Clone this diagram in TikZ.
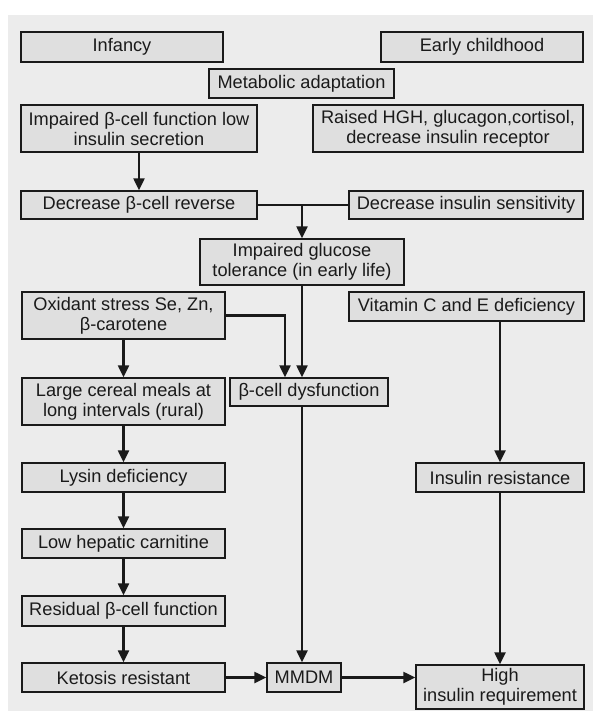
\documentclass[tikz,border=0pt]{standalone}
\usepackage{fontspec}
\setmainfont{Liberation Sans}
\usetikzlibrary{arrows.meta}
\definecolor{paper}{HTML}{ECECEC}
\definecolor{boxfill}{HTML}{DFDFDF}
\definecolor{ink}{HTML}{1A1A1A}
\begin{document}
\begin{tikzpicture}[x=1pt,y=-1pt,
  stepbox/.style={draw=ink,line width=1.4pt,fill=boxfill,rectangle,inner sep=0pt,
    align=center,text=ink,font=\fontsize{18.2}{20}\selectfont},
  flow/.style={draw=ink,line width=2.3pt,-{Triangle[length=12pt,width=11pt]}},
  joint/.style={draw=ink,line width=2.3pt}]
% page and scanned sheet
\useasboundingbox (0,0) rectangle (593,711);
\fill[white] (0,0) rectangle (593,711);
\fill[paper] (8,15) rectangle (593,711);
% boxes
\node[stepbox,minimum width=202pt,minimum height=30pt] (inf) at (122,47) {Infancy};
\node[stepbox,minimum width=202pt,minimum height=30pt] (ec) at (482,47) {Early childhood};
\node[stepbox,minimum width=185pt,minimum height=29pt] (ma) at (301.5,83.5) {Metabolic adaptation};
\node[stepbox,minimum width=236pt,minimum height=47pt] (ibf) at (139,128.5) {Impaired β-cell function low\\insulin secretion};
\node[stepbox,minimum width=270pt,minimum height=47pt] (hgh) at (448,128.5) {Raised HGH, glucagon,cortisol,\\decrease insulin receptor};
\node[stepbox,minimum width=236pt,minimum height=28pt] (dbr) at (139,205) {Decrease β-cell reverse};
\node[stepbox,minimum width=234pt,minimum height=28pt] (dis) at (466,205) {Decrease insulin sensitivity};
\node[stepbox,minimum width=204pt,minimum height=46pt] (igt) at (302,262) {Impaired glucose\\tolerance (in early life)};
\node[stepbox,minimum width=203pt,minimum height=47pt] (ox) at (123.5,315.5) {Oxidant stress Se, Zn,\\β-carotene};
\node[stepbox,minimum width=235pt,minimum height=29pt] (vit) at (466.5,306.5) {Vitamin C and E deficiency};
\node[stepbox,minimum width=203pt,minimum height=47pt] (lcm) at (123.5,401.5) {Large cereal meals at\\long intervals (rural)};
\node[stepbox,minimum width=158pt,minimum height=28pt] (bcd) at (309,392) {β-cell dysfunction};
\node[stepbox,minimum width=203pt,minimum height=29pt] (lys) at (123.5,477.5) {Lysin deficiency};
\node[stepbox,minimum width=168pt,minimum height=29pt] (ir) at (500,477.5) {Insulin resistance};
\node[stepbox,minimum width=203pt,minimum height=29pt] (lhc) at (123.5,543.5) {Low hepatic carnitine};
\node[stepbox,minimum width=203pt,minimum height=30pt] (res) at (123.5,611) {Residual β-cell function};
\node[stepbox,minimum width=203pt,minimum height=29pt] (ket) at (123.5,677.5) {Ketosis resistant};
\node[stepbox,minimum width=74pt,minimum height=29pt] (mmdm) at (304,677.5) {MMDM};
\node[stepbox,minimum width=168pt,minimum height=44pt] (hir) at (500,687) {High\\insulin requirement};
% junction points
\coordinate (j) at (igt.north |- dbr.east);
\coordinate (oxturn) at (285,0);
% connectors
\draw[flow] (ibf.south) -- (dbr.north);
\draw[joint] (dbr.east) -- (dis.west);
\draw[flow] (j) -- (igt.north);
\draw[flow] (igt.south) -- (igt.south |- bcd.north);
\draw[flow] (ox.east) -| (oxturn |- bcd.north);
\draw[flow] (ox.south) -- (lcm.north);
\draw[flow] (lcm.south) -- (lys.north);
\draw[flow] (lys.south) -- (lhc.north);
\draw[flow] (lhc.south) -- (res.north);
\draw[flow] (res.south) -- (ket.north);
\draw[flow] (vit.south -| ir.north) -- (ir.north);
\draw[flow] (ir.south) -- (hir.north);
\draw[flow] (igt.south |- bcd.south) -- (igt.south |- mmdm.north);
\draw[flow] (ket.east) -- (mmdm.west);
\draw[flow] (mmdm.east) -- (mmdm.east -| hir.west);
\end{tikzpicture}
\end{document}
